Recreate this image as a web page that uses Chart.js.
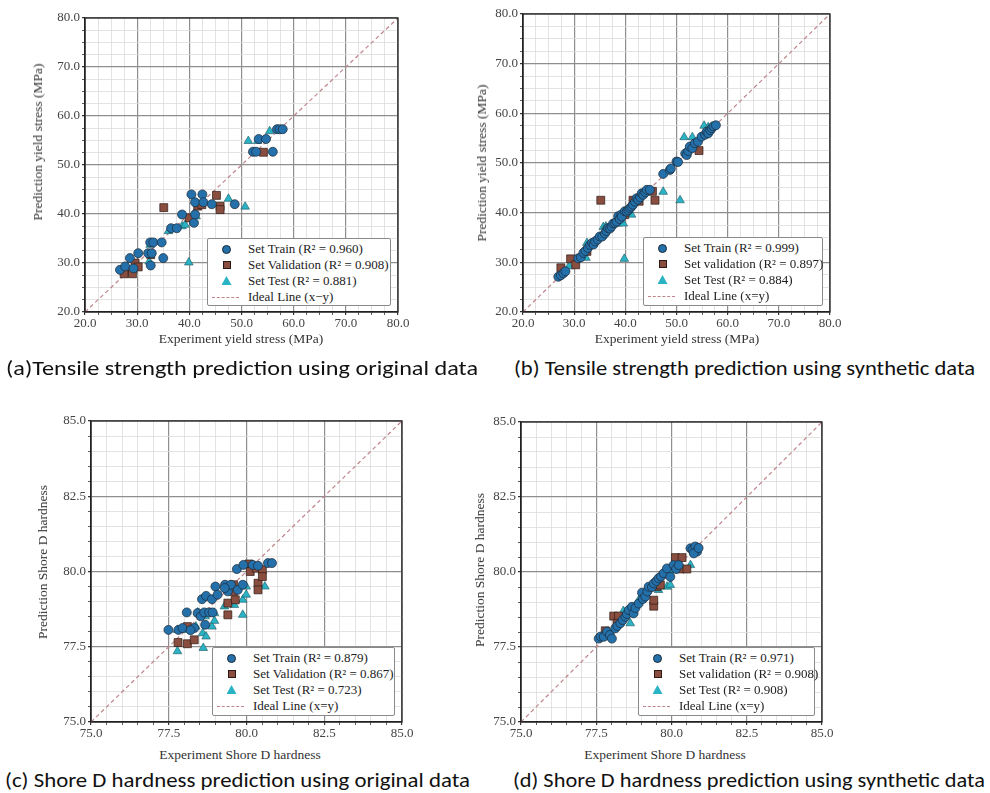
<!DOCTYPE html>
<html><head><meta charset="utf-8">
<script src="https://cdn.jsdelivr.net/npm/chart.js@4.4.1/dist/chart.umd.min.js"></script>
<style>
body{margin:0;background:#fff;width:990px;height:793px;position:relative;overflow:hidden;font-family:'Liberation Serif',serif}
canvas{position:absolute}
.ytitle{position:absolute;white-space:nowrap;font-size:13.5px;color:#333;transform:translate(-50%,-50%) rotate(-90deg)}
.xtitle{position:absolute;white-space:nowrap;font-size:13.5px;color:#333;transform:translate(-50%,-50%)}
.cap{position:absolute;white-space:nowrap;font-family:Carlito,'Open Sans',sans-serif;font-size:20px;color:#111;transform-origin:left center;line-height:24px}
.leg{position:absolute;background:#fff;border:1px solid #8a8a8a;border-radius:2px;font-size:13px;color:#222;box-sizing:border-box}
.row{position:absolute;left:0;height:16px;line-height:16px;white-space:nowrap}
.mk{position:absolute;box-sizing:border-box}
</style></head><body>
<script>
// ---------- data ----------
const tensileMajor = [20, 30, 40, 50, 60, 70, 80];
const hardMajor = [75, 77.5, 80, 82.5, 85];

const aTrain = [[26.7,28.6],[27.7,29.3],[28.6,31.0],[29.3,28.9],[30.2,32.0],[32.1,32.0],[32.5,34.2],[33.1,34.2],[34.7,34.2],[35.0,31.0],[32.6,29.5],[32.8,32.0],[36.5,37.1],[37.6,37.1],[38.6,39.9],[40.9,38.2],[41.1,39.9],[40.4,44.0],[42.5,44.0],[41.1,42.4],[42.7,42.4],[44.3,42.0],[48.7,42.0],[52.2,52.7],[52.8,52.7],[56.0,52.7],[53.3,55.3],[54.7,55.3],[56.8,57.3],[57.3,57.3],[57.9,57.3]];
const aVal = [[27.5,27.8],[29.1,27.8],[29.6,30.0],[30.2,29.2],[32.6,31.7],[35.1,41.3],[40.0,39.2],[41.6,41.6],[42.4,41.9],[45.2,43.8],[45.9,41.6],[45.9,40.9],[54.2,52.6]];
const aTest = [[29.1,28.6],[32.3,30.3],[32.5,33.7],[36.0,36.5],[38.6,37.5],[39.2,37.8],[41.3,39.5],[39.9,30.1],[47.5,43.1],[50.7,41.5],[51.3,54.9],[53.1,54.9],[55.4,56.9]];

const bTrain = [[26.9,27.1],[27.4,27.4],[27.9,27.8],[28.3,28.2],[30.8,30.8],[31.3,31.0],[31.8,31.9],[32.2,32.3],[32.7,32.9],[33.1,33.5],[33.5,33.9],[33.8,33.6],[34.1,34.2],[34.6,34.6],[35.0,35.2],[35.5,35.2],[36.0,35.8],[36.3,36.3],[36.6,36.9],[37.0,36.8],[37.3,37.2],[37.6,37.8],[38.0,37.9],[38.3,38.2],[38.6,39.3],[38.9,38.7],[39.2,39.6],[39.3,39.2],[39.9,40.3],[40.3,40.2],[40.6,40.5],[40.9,40.9],[41.2,41.2],[41.5,41.6],[41.9,42.2],[42.2,42.9],[42.5,42.6],[42.9,43.1],[43.2,43.9],[43.5,43.6],[43.9,44.1],[44.2,44.6],[44.8,44.6],[47.4,47.8],[48.7,48.6],[48.9,48.9],[50.0,50.3],[50.3,50.2],[51.7,51.9],[52.0,51.6],[52.3,52.4],[52.6,53.3],[53.1,53.0],[53.6,54.0],[54.2,54.3],[54.9,55.3],[55.6,55.7],[55.9,56.3],[56.2,56.0],[56.6,56.6],[56.9,57.0],[57.2,57.4],[57.7,57.6]];
const bVal = [[27.4,28.9],[29.3,30.7],[30.3,29.5],[32.5,32.2],[35.2,42.5],[39.9,39.6],[41.5,42.5],[42.7,42.3],[45.3,44.3],[45.8,42.5],[54.4,52.5]];
const bTest = [[29.0,29.2],[32.3,30.9],[32.5,33.9],[35.7,37.1],[36.2,37.2],[38.6,37.8],[39.6,37.8],[39.8,30.7],[41.2,39.6],[47.4,44.2],[50.7,42.5],[51.5,55.2],[53.1,55.2],[55.4,57.5],[56.2,57.2]];

const cTrain = [[77.49,78.06],[77.81,78.06],[77.94,78.12],[78.08,78.64],[78.32,78.12],[78.43,78.62],[78.53,78.51],[78.64,78.64],[78.67,78.23],[78.80,78.64],[78.91,78.64],[78.57,79.08],[78.70,79.19],[78.89,79.08],[79.00,79.50],[79.07,79.23],[79.31,79.56],[79.40,79.34],[79.50,79.56],[79.72,79.39],[79.88,79.56],[79.69,80.08],[79.90,80.22],[80.20,80.22],[80.37,80.19],[80.69,80.28],[80.82,80.28],[79.30,79.45],[78.20,78.05]];
const cVal = [[77.80,77.64],[78.10,78.17],[78.10,77.60],[78.32,77.73],[79.40,78.56],[79.40,78.95],[79.58,79.56],[79.58,79.34],[79.64,79.06],[80.08,80.25],[80.12,80.00],[80.31,80.11],[80.51,80.06],[80.37,79.61],[80.37,79.39],[80.51,79.83]];
const cTest = [[77.78,77.35],[77.78,78.06],[78.08,78.06],[78.37,78.17],[78.43,78.64],[78.59,77.95],[78.61,77.46],[78.70,77.84],[78.67,78.51],[78.89,78.17],[78.97,78.36],[78.97,78.62],[79.29,78.84],[79.61,78.89],[79.88,78.56],[79.88,79.06],[79.99,79.23],[79.99,79.50],[80.59,79.50]];

const dTrain = [[77.58,77.78],[77.65,77.85],[77.75,77.84],[77.86,78.01],[77.95,77.90],[78.02,77.78],[78.13,78.12],[78.20,78.20],[78.30,78.29],[78.38,78.40],[78.47,78.51],[78.52,78.60],[78.58,78.73],[78.69,78.84],[78.74,78.62],[78.80,78.80],[78.91,78.95],[79.02,79.31],[79.05,79.10],[79.13,79.18],[79.20,79.35],[79.24,79.51],[79.35,79.50],[79.41,79.62],[79.50,79.70],[79.57,79.79],[79.65,79.85],[79.74,79.96],[79.85,80.12],[79.96,79.84],[80.07,80.23],[80.15,80.10],[80.24,80.23],[80.63,80.79],[80.70,80.75],[80.79,80.85],[80.85,80.68],[80.74,80.62],[80.90,80.80]];
const dVal = [[77.80,78.04],[78.08,78.53],[78.24,78.53],[78.19,78.29],[79.41,78.86],[79.41,79.06],[79.52,79.51],[79.63,79.57],[80.13,80.48],[80.35,80.48],[80.29,80.10],[80.51,80.10]];
const dTest = [[77.86,77.84],[78.63,78.29],[78.69,78.73],[78.91,79.06],[78.40,78.70],[79.57,79.40],[79.85,79.51],[79.96,79.57],[79.98,80.07],[80.63,80.23]];

const aLabels = ['Set Train (R\u00B2 = 0.960)','Set Validation (R\u00B2 = 0.908)','Set Test (R\u00B2 = 0.881)','Ideal Line (x\u2212y)'];
const bLabels = ['Set Train (R\u00B2 = 0.999)','Set validation (R\u00B2 = 0.897)','Set Test (R\u00B2 = 0.884)','Ideal Line (x=y)'];
const cLabels = ['Set Train (R\u00B2 = 0.879)','Set Validation (R\u00B2 = 0.867)','Set Test (R\u00B2 = 0.723)','Ideal Line (x=y)'];
const dLabels = ['Set Train (R\u00B2 = 0.971)','Set validation (R\u00B2 = 0.908)','Set Test (R\u00B2 = 0.908)','Ideal Line (x=y)'];

const captions = [
  '(a)Tensile strength prediction using original data',
  '(b) Tensile strength prediction using synthetic data',
  '(c) Shore D hardness prediction using original data',
  '(d) Shore D hardness prediction using synthetic data'
];
const xTitles = ['Experiment yield stress (MPa)','Experiment yield stress (MPa)','Experiment Shore D hardness','Experiment Shore D hardness'];
const yTitles = ['Prediction yield stress (MPa)','Prediction yield stress (MPa)','Prediction Shore D hardness','Prediction Shore D hardness'];

// ---------- styles / layout ----------
const C_TRAIN = '#2370ab', C_VAL = '#8a4e40', C_TEST = '#2ab3c5', C_LINE = '#bf858b';

const panels = [
  {area:{l:85,r:398,t:18,b:312}, major:tensileMajor, minor:2.5, data:[aTrain,aVal,aTest], labels:aLabels,
   leg:{l:207,t:238,w:184,h:68}, cap:{l:6,y:368,w:472}, xt:{x:241,y:339}, yt:{x:38,y:142}},
  {area:{l:523,r:830,t:14,b:312}, major:tensileMajor, minor:2.5, data:[bTrain,bVal,bTest], labels:bLabels,
   leg:{l:643,t:237,w:180,h:69}, cap:{l:514,y:368,w:461}, xt:{x:677,y:339}, yt:{x:482,y:163}},
  {area:{l:91,r:402,t:421,b:722}, major:hardMajor, minor:0.5, data:[cTrain,cVal,cTest], labels:cLabels,
   leg:{l:212,t:647,w:183,h:69}, cap:{l:5,y:780,w:465}, xt:{x:240,y:755}, yt:{x:43,y:562}},
  {area:{l:521,r:822,t:422,b:722}, major:hardMajor, minor:0.5, data:[dTrain,dVal,dTest], labels:dLabels,
   leg:{l:638,t:647,w:177,h:69}, cap:{l:513,y:780,w:472}, xt:{x:665,y:755}, yt:{x:480,y:570}}
];

const boxPlugin = {
  id:'box',
  afterDraw(chart){
    const {ctx, chartArea:a} = chart;
    ctx.save(); ctx.strokeStyle='#222'; ctx.lineWidth=1.3;
    ctx.strokeRect(a.left, a.top, a.right-a.left, a.bottom-a.top);
    ctx.restore();
  }
};

function isMajor(v, major){ return major.some(m => Math.abs(m - v) < 1e-6); }

function makeTicks(min, max, step){
  const out=[]; const n=Math.round((max-min)/step);
  for(let i=0;i<=n;i++) out.push({value: +(min+i*step).toFixed(4)});
  return out;
}

function el(tag, cls, parent){ const e=document.createElement(tag); if(cls) e.className=cls; (parent||document.body).appendChild(e); return e; }

panels.forEach((p, idx) => {
  const A=p.area, min=p.major[0], max=p.major[p.major.length-1];
  const cx=A.l-50, cy=A.t-10, cw=A.r-cx+22, ch=A.b-cy+24;
  const cv=el('canvas'); cv.width=cw; cv.height=ch; cv.style.left=cx+'px'; cv.style.top=cy+'px';
  cv.style.width=cw+'px'; cv.style.height=ch+'px';
  const ticks=makeTicks(min,max,p.minor);
  const axis = (isX) => ({
    type:'linear', min, max, offset:false,
    afterBuildTicks(s){ s.ticks = ticks.map(t=>({value:t.value})); },
    afterFit(s){ if(isX) s.height = ch-(A.b-cy); else s.width = A.l-cx; },
    ticks:{autoSkip:false, maxRotation:0, padding:isX?1:2, color:'#444',
      font:{family:'Liberation Serif', size:13},
      callback:(v)=> isMajor(v,p.major) ? v.toFixed(1) : ''},
    grid:{drawTicks:true, tickLength:3, tickColor:'#333',
      color:(c)=> (c.tick && isMajor(c.tick.value,p.major)) ? '#8e8e8e' : '#dcdcdc',
      lineWidth:(c)=> (c.tick && isMajor(c.tick.value,p.major)) ? 1.2 : 0.8},
    border:{display:true, color:'#222', width:1.3}
  });
  const pts = arr => arr.map(d=>({x:d[0], y:d[1]}));
  const chart = new Chart(cv, {
    type:'scatter',
    data:{datasets:[
      {label:p.labels[0], data:pts(p.data[0]), pointStyle:'circle', pointRadius:4.5, backgroundColor:C_TRAIN, borderColor:'#1c2833', borderWidth:0.7, order:1},
      {label:p.labels[1], data:pts(p.data[1]), pointStyle:'rect', pointRadius:5.6, backgroundColor:C_VAL, borderColor:'#2b1a14', borderWidth:0.7, order:1},
      {label:p.labels[2], data:pts(p.data[2]), pointStyle:'triangle', pointRadius:5, backgroundColor:C_TEST, borderColor:'#1d5660', borderWidth:0.6, order:1},
      {label:p.labels[3], type:'line', data:[{x:min,y:min},{x:max,y:max}], borderColor:C_LINE, borderWidth:1.2, borderDash:[4,3], pointRadius:0, fill:false, order:2}
    ]},
    options:{
      responsive:false, animation:false, devicePixelRatio:1,
      layout:{padding:{top:A.t-cy, right:cx+cw-A.r, left:0, bottom:0}},
      plugins:{legend:{display:false}, tooltip:{enabled:false}},
      scales:{x:axis(true), y:axis(false)}
    },
    plugins:[boxPlugin]
  });

  // HTML legend from the chart's datasets
  const lg=el('div','leg'); lg.style.left=p.leg.l+'px'; lg.style.top=p.leg.t+'px'; lg.style.width=p.leg.w+'px'; lg.style.height=p.leg.h+'px';
  chart.data.datasets.forEach((ds,i)=>{
    const r=el('div','row',lg); r.style.top=(2+i*16)+'px'; r.style.width='100%';
    const m=el('div','mk',r);
    if(ds.pointStyle==='circle'){ Object.assign(m.style,{width:'9px',height:'9px',borderRadius:'50%',background:ds.backgroundColor,border:'0.6px solid #1c2833',left:'14px',top:'3.5px'}); }
    else if(ds.pointStyle==='rect'){ Object.assign(m.style,{width:'8px',height:'8px',background:ds.backgroundColor,border:'0.6px solid #2b1a14',left:'14.5px',top:'4px'}); }
    else if(ds.pointStyle==='triangle'){ Object.assign(m.style,{width:'10px',height:'9px',background:ds.backgroundColor,clipPath:'polygon(50% 0,100% 100%,0 100%)',left:'13.5px',top:'3px'}); }
    else { Object.assign(m.style,{width:'27px',height:'0',borderTop:'1px dashed '+ds.borderColor,left:'4px',top:'8px'}); }
    const t=el('span','',r); t.textContent=ds.label; t.style.position='absolute'; t.style.left='40px';
  });

  // axis titles
  const xt=el('div','xtitle'); xt.textContent=xTitles[idx]; xt.style.left=p.xt.x+'px'; xt.style.top=p.xt.y+'px';
  const yt=el('div','ytitle'); yt.textContent=yTitles[idx]; yt.style.left=p.yt.x+'px'; yt.style.top=p.yt.y+'px';

  // caption
  const cp=el('div','cap'); cp.textContent=captions[idx]; cp.style.left=p.cap.l+'px'; cp.style.top=(p.cap.y-12)+'px';
  const w=cp.getBoundingClientRect().width; cp.style.transform='scaleX('+(p.cap.w/w).toFixed(4)+')';
});
</script>
</body></html>
